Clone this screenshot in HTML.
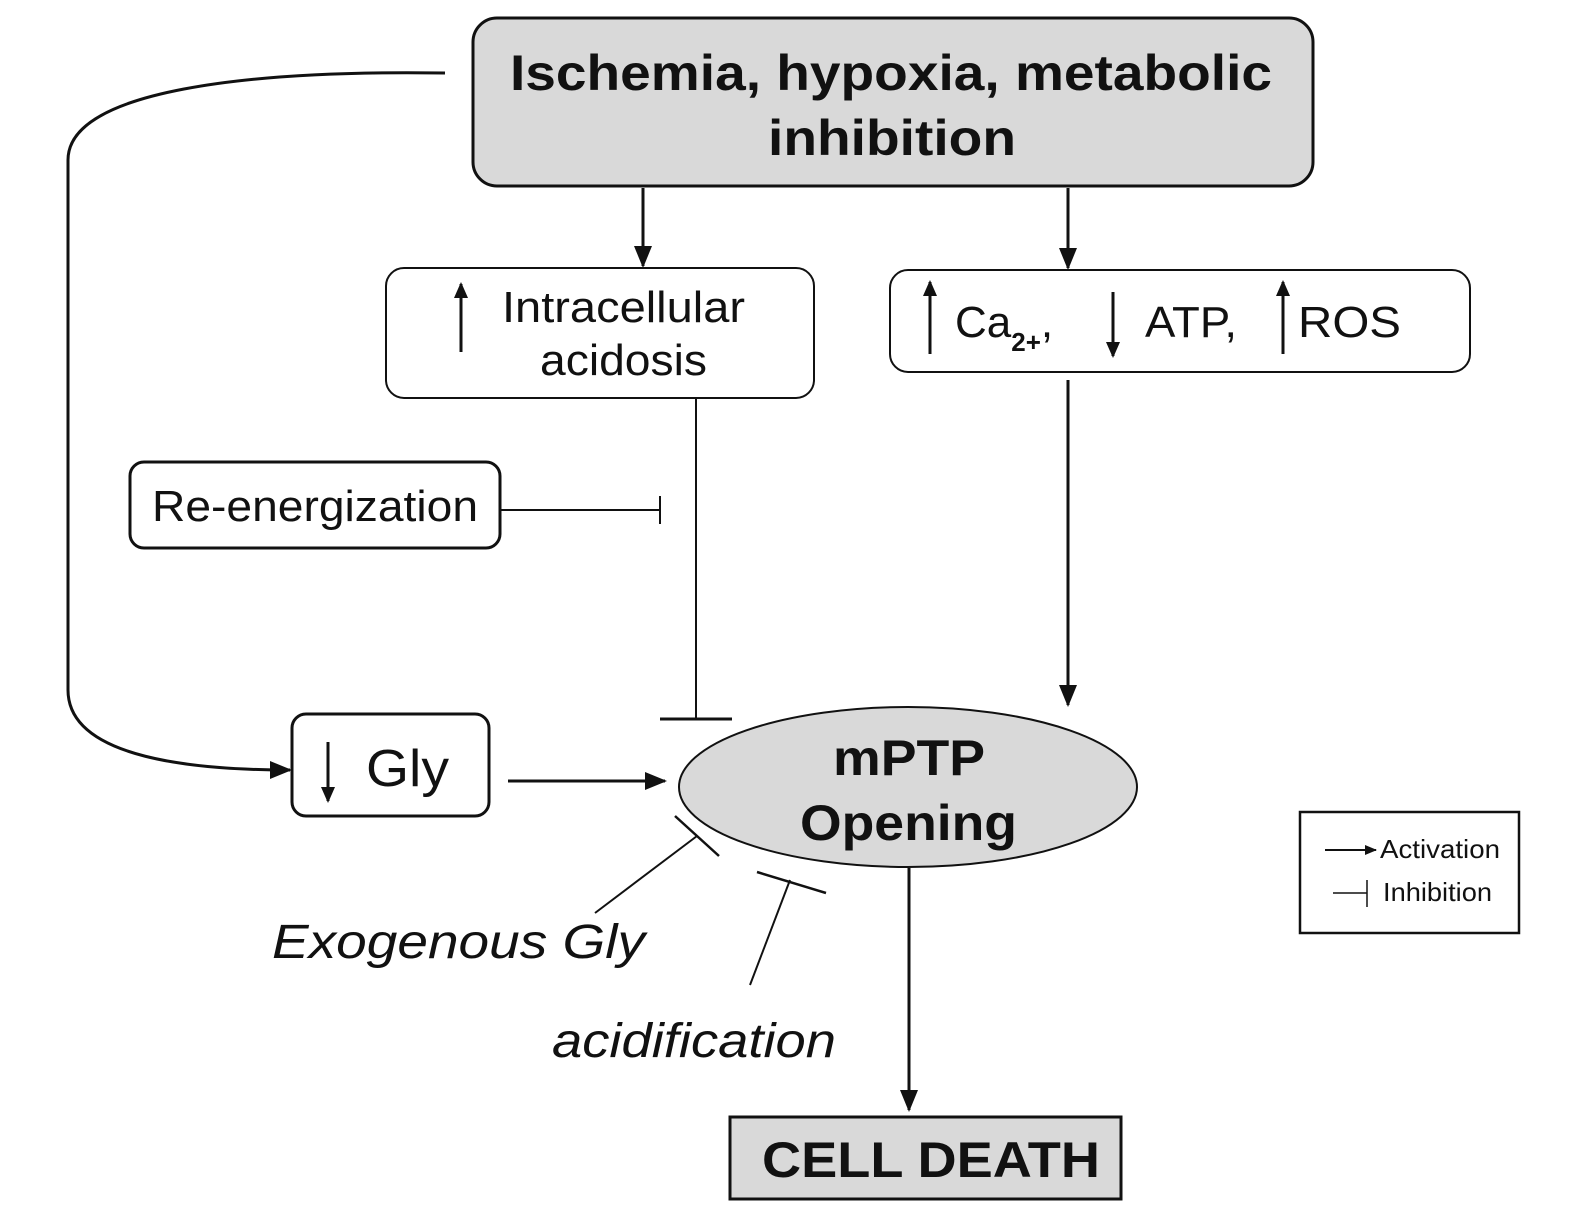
<!DOCTYPE html>
<html><head><style>
html,body{margin:0;padding:0;background:#fff;}
svg{display:block;}
text{font-family:"Liberation Sans",Arial,sans-serif;fill:#111;}
</style></head><body>
<svg width="1570" height="1225" viewBox="0 0 1570 1225" xmlns="http://www.w3.org/2000/svg">
<defs>
<marker id="ah" markerWidth="16" markerHeight="14" refX="14" refY="7" orient="auto" markerUnits="userSpaceOnUse" viewBox="0 0 16 14">
<path d="M0,0 L16,7 L0,14 z" fill="#111"/></marker>
<marker id="ahs" markerWidth="12" markerHeight="10" refX="11" refY="5" orient="auto" markerUnits="userSpaceOnUse" viewBox="0 0 12 10">
<path d="M0,0 L12,5 L0,10 z" fill="#111"/></marker>
<marker id="ahb" markerWidth="22" markerHeight="22" refX="20" refY="11" orient="auto" markerUnits="userSpaceOnUse" viewBox="0 0 22 22">
<path d="M0,2 L22,11 L0,20 z" fill="#111"/></marker>
</defs>
<g stroke="#111" fill="none" stroke-width="3">
<rect x="473" y="18" width="840" height="168" rx="24" fill="#d9d9d9"/>
<rect x="386" y="268" width="428" height="130" rx="18" fill="#fff" stroke-width="2"/>
<rect x="890" y="270" width="580" height="102" rx="18" fill="#fff" stroke-width="2"/>
<rect x="130" y="462" width="370" height="86" rx="14" fill="#fff"/>
<rect x="292" y="714" width="197" height="102" rx="14" fill="#fff"/>
<ellipse cx="908" cy="787" rx="229" ry="80" fill="#d9d9d9" stroke-width="2"/>
<rect x="730" y="1117" width="391" height="82" fill="#d9d9d9"/>
<rect x="1300" y="812" width="219" height="121" fill="#fff" stroke-width="2.5"/>

<line x1="643" y1="188" x2="643" y2="266" marker-end="url(#ahb)"/>
<line x1="1068" y1="188" x2="1068" y2="268" marker-end="url(#ahb)"/>
<line x1="1068" y1="380" x2="1068" y2="705" marker-end="url(#ahb)"/>
<line x1="696" y1="398" x2="696" y2="719" stroke-width="2"/>
<line x1="660" y1="719" x2="732" y2="719"/>
<line x1="500" y1="510" x2="660" y2="510" stroke-width="2"/>
<line x1="660" y1="496" x2="660" y2="524" stroke-width="2"/>
<path d="M445 73 C 250 70, 68 90, 68 160 L 68 690 C 68 760, 200 770, 290 770" marker-end="url(#ahb)"/>
<line x1="508" y1="781" x2="665" y2="781" marker-end="url(#ahb)"/>
<line x1="909" y1="868" x2="909" y2="1110" marker-end="url(#ahb)"/>
<line x1="595" y1="913" x2="697" y2="836" stroke-width="2"/>
<line x1="675" y1="816" x2="719" y2="856" stroke-width="2.5"/>
<line x1="750" y1="985" x2="790" y2="880" stroke-width="2"/>
<line x1="757" y1="872" x2="826" y2="893" stroke-width="2.5"/>
<line x1="461" y1="352" x2="461" y2="284" stroke-width="3" marker-end="url(#ah)"/>
<line x1="930" y1="354" x2="930" y2="282" stroke-width="3" marker-end="url(#ah)"/>
<line x1="1113" y1="292" x2="1113" y2="356" stroke-width="3" marker-end="url(#ah)"/>
<line x1="1283" y1="354" x2="1283" y2="282" stroke-width="3" marker-end="url(#ah)"/>
<line x1="328" y1="742" x2="328" y2="801" stroke-width="3" marker-end="url(#ah)"/>
<line x1="1325" y1="850" x2="1376" y2="850" stroke-width="2" marker-end="url(#ahs)"/>
<line x1="1333" y1="893" x2="1367" y2="893" stroke-width="1.5"/>
<line x1="1367" y1="880" x2="1367" y2="907" stroke-width="1.5"/>
</g>
<text x="510" y="90" font-size="50" font-weight="bold" textLength="762" lengthAdjust="spacingAndGlyphs">Ischemia, hypoxia, metabolic</text>
<text x="768" y="155" font-size="50" font-weight="bold" textLength="248" lengthAdjust="spacingAndGlyphs">inhibition</text>
<text x="502" y="322" font-size="44" textLength="243" lengthAdjust="spacingAndGlyphs">Intracellular</text>
<text x="540" y="375" font-size="44" textLength="167" lengthAdjust="spacingAndGlyphs">acidosis</text>
<text x="955" y="337" font-size="44">Ca<tspan font-size="26" font-weight="bold" dy="14">2+</tspan><tspan dy="-14">,</tspan></text>
<text x="1145" y="337" font-size="44" textLength="92" lengthAdjust="spacingAndGlyphs">ATP,</text>
<text x="1298" y="337" font-size="44" textLength="103" lengthAdjust="spacingAndGlyphs">ROS</text>
<text x="152" y="521" font-size="44" textLength="326" lengthAdjust="spacingAndGlyphs">Re-energization</text>
<text x="366" y="786" font-size="52" textLength="83" lengthAdjust="spacingAndGlyphs">Gly</text>
<text x="833" y="775" font-size="50" font-weight="bold" textLength="152" lengthAdjust="spacingAndGlyphs">mPTP</text>
<text x="800" y="840" font-size="50" font-weight="bold" textLength="217" lengthAdjust="spacingAndGlyphs">Opening</text>
<text x="272" y="958" font-size="48" font-style="italic" textLength="373" lengthAdjust="spacingAndGlyphs">Exogenous Gly</text>
<text x="552" y="1057" font-size="48" font-style="italic" textLength="284" lengthAdjust="spacingAndGlyphs">acidification</text>
<text x="762" y="1177" font-size="50" font-weight="bold" textLength="338" lengthAdjust="spacingAndGlyphs">CELL DEATH</text>
<text x="1380" y="858" font-size="26" textLength="120" lengthAdjust="spacingAndGlyphs">Activation</text>
<text x="1383" y="901" font-size="26" textLength="109" lengthAdjust="spacingAndGlyphs">Inhibition</text>
</svg>
</body></html>
